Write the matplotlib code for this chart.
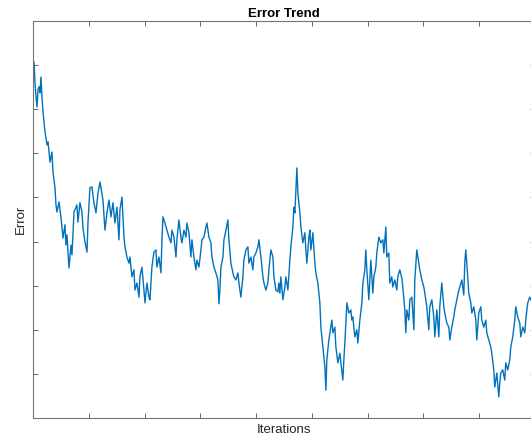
import numpy as np
import matplotlib.pyplot as plt

plt.rcParams['font.family'] = ['Liberation Sans', 'DejaVu Sans']

# values (iteration, error)
iterations = [
    0, 18, 36, 54, 72, 90, 108, 125, 143, 161, 179, 215, 251, 269, 305, 340, 358, 394, 412, 430,
    466, 502, 538, 573, 591, 609, 645, 681, 699, 735, 788, 806, 842, 878, 896, 932, 968, 986, 1021,
    1057, 1093, 1129, 1165, 1201, 1254, 1290, 1326, 1362, 1398, 1434, 1469, 1505, 1541, 1559, 1595,
    1631, 1649, 1684, 1720, 1738, 1774, 1810, 1828, 1864, 1900, 1917, 1953, 1989, 2007, 2043, 2079,
    2097, 2132, 2168, 2204, 2222, 2258, 2294, 2312, 2330, 2365, 2401, 2437, 2473, 2491, 2527, 2563,
    2580, 2616, 2652, 2670, 2706, 2742, 2760, 2796, 2831, 2849, 2885, 2921, 2939, 2975, 3011, 3028,
    3064, 3100, 3118, 3154, 3190, 3208, 3244, 3279, 3315, 3333, 3351, 3369, 3405, 3423, 3459, 3494,
    3512, 3548, 3584, 3602, 3638, 3674, 3692, 3727, 3763, 3781, 3817, 3853, 3871, 3907, 3942, 3960,
    3996, 4032, 4050, 4086, 4122, 4140, 4175, 4211, 4229, 4265, 4301, 4319, 4355, 4390, 4408, 4426,
    4444, 4480, 4516, 4534, 4570, 4605, 4623, 4659, 4677, 4695, 4731, 4749, 4785, 4803, 4838, 4874,
    4892, 4910, 4946, 4964, 4982, 5018, 5053, 5071, 5107, 5143, 5161, 5197, 5233, 5251, 5268, 5304,
    5340, 5358, 5376, 5412, 5430, 5466, 5502, 5520, 5555, 5573, 5591, 5609, 5627, 5663, 5699, 5716,
    5734, 5770, 5806, 5824, 5860, 5896, 5914, 5949, 5967, 5985, 6021, 6057, 6093, 6111, 6146, 6164,
    6200, 6236, 6272, 6290, 6326, 6343, 6379, 6397, 6433, 6451, 6487, 6523, 6540, 6576, 6612, 6630,
    6666, 6684, 6702, 6738, 6756, 6792, 6828, 6845, 6881, 6917, 6935, 6971, 7007, 7025, 7060, 7096,
    7114, 7150, 7186, 7204, 7240, 7276, 7293, 7329, 7365, 7383, 7419, 7455, 7473, 7508, 7544, 7562,
    7598, 7634, 7652, 7688, 7723, 7741, 7759, 7777, 7813, 7849, 7867, 7903, 7939, 7956, 7992, 8028,
    8046, 8082, 8118, 8136, 8171, 8207, 8225, 8261, 8279, 8297, 8315, 8351, 8369, 8386, 8422, 8458,
    8476, 8512, 8548, 8566, 8601, 8637, 8655, 8691, 8727, 8745, 8781, 8816, 8834, 8870, 8906, 8924,
    9000,
]
error = [
    0.778, 0.807, 0.760, 0.728, 0.705, 0.744, 0.751, 0.737, 0.773, 0.728, 0.694, 0.649, 0.619, 0.626,
    0.580, 0.603, 0.558, 0.522, 0.483, 0.467, 0.490, 0.454, 0.408, 0.438, 0.392, 0.415, 0.340, 0.392,
    0.370, 0.467, 0.483, 0.444, 0.488, 0.467, 0.431, 0.399, 0.376, 0.444, 0.522, 0.524, 0.488, 0.465,
    0.510, 0.535, 0.494, 0.426, 0.465, 0.494, 0.456, 0.488, 0.442, 0.478, 0.404, 0.472, 0.501, 0.410,
    0.388, 0.365, 0.351, 0.365, 0.320, 0.336, 0.290, 0.306, 0.274, 0.320, 0.342, 0.290, 0.261, 0.306,
    0.274, 0.268, 0.342, 0.376, 0.381, 0.342, 0.365, 0.329, 0.404, 0.456, 0.442, 0.426, 0.410, 0.397,
    0.426, 0.410, 0.365, 0.404, 0.449, 0.410, 0.397, 0.426, 0.410, 0.442, 0.420, 0.365, 0.404, 0.365,
    0.336, 0.358, 0.342, 0.381, 0.404, 0.410, 0.433, 0.442, 0.410, 0.397, 0.365, 0.342, 0.329, 0.313,
    0.259, 0.290, 0.342, 0.365, 0.404, 0.426, 0.449, 0.404, 0.351, 0.329, 0.320, 0.313, 0.329, 0.306,
    0.274, 0.320, 0.358, 0.381, 0.388, 0.351, 0.365, 0.336, 0.365, 0.374, 0.388, 0.404, 0.365, 0.320,
    0.306, 0.290, 0.306, 0.336, 0.381, 0.365, 0.320, 0.290, 0.286, 0.306, 0.283, 0.320, 0.268, 0.297,
    0.320, 0.290, 0.358, 0.388, 0.433, 0.478, 0.465, 0.567, 0.510, 0.465, 0.433, 0.397, 0.420, 0.381,
    0.351, 0.410, 0.426, 0.381, 0.420, 0.351, 0.329, 0.306, 0.261, 0.206, 0.161, 0.116, 0.063, 0.132,
    0.177, 0.206, 0.222, 0.193, 0.206, 0.161, 0.125, 0.147, 0.125, 0.086, 0.132, 0.170, 0.215, 0.261,
    0.238, 0.245, 0.222, 0.229, 0.184, 0.200, 0.170, 0.222, 0.261, 0.306, 0.336, 0.381, 0.336, 0.268,
    0.358, 0.283, 0.320, 0.342, 0.374, 0.410, 0.397, 0.404, 0.374, 0.433, 0.365, 0.374, 0.306, 0.320,
    0.297, 0.313, 0.290, 0.320, 0.336, 0.317, 0.297, 0.245, 0.193, 0.245, 0.222, 0.268, 0.274, 0.200,
    0.313, 0.381, 0.351, 0.336, 0.313, 0.297, 0.283, 0.252, 0.200, 0.252, 0.268, 0.229, 0.184, 0.245,
    0.184, 0.252, 0.306, 0.252, 0.238, 0.215, 0.206, 0.177, 0.206, 0.229, 0.245, 0.268, 0.290, 0.297,
    0.313, 0.279, 0.351, 0.381, 0.351, 0.283, 0.261, 0.238, 0.252, 0.222, 0.177, 0.238, 0.252, 0.222,
    0.206, 0.222, 0.193, 0.177, 0.161, 0.147, 0.109, 0.070, 0.086, 0.102, 0.048, 0.079, 0.102, 0.109,
    0.086, 0.125, 0.109, 0.132, 0.161, 0.184, 0.222, 0.252, 0.229, 0.215, 0.184, 0.206, 0.193, 0.222,
    0.261, 0.274, 0.268, 0.290,
]

fig = plt.figure(figsize=(5.31, 4.36), dpi=100)
ax = fig.add_axes([33 / 531, 18 / 436, 502 / 531, 397 / 436])

ax.plot(iterations, error, color='#0072BD', linewidth=1.0)

ax.set_xlim(0, 9000)
ax.set_ylim(0, 0.9)
ax.set_xticks(np.arange(0, 9001, 1000))
ax.set_yticks(np.arange(0, 0.91, 0.1))
ax.set_xticklabels([])
ax.set_yticklabels([])
ax.tick_params(direction='in', length=3.5, width=0.6, color='0.3',
               top=True, right=True)
for s in ax.spines.values():
    s.set_color('0.45')
    s.set_linewidth(0.8)

ax.set_title('Error Trend', fontsize=9.5, fontweight='bold', pad=3)
ax.set_xlabel('Iterations', fontsize=9.5, labelpad=1, color='0.15')
ax.set_ylabel('Error', fontsize=9.5, labelpad=1, color='0.15')

fig.savefig('out.png', dpi=100)
